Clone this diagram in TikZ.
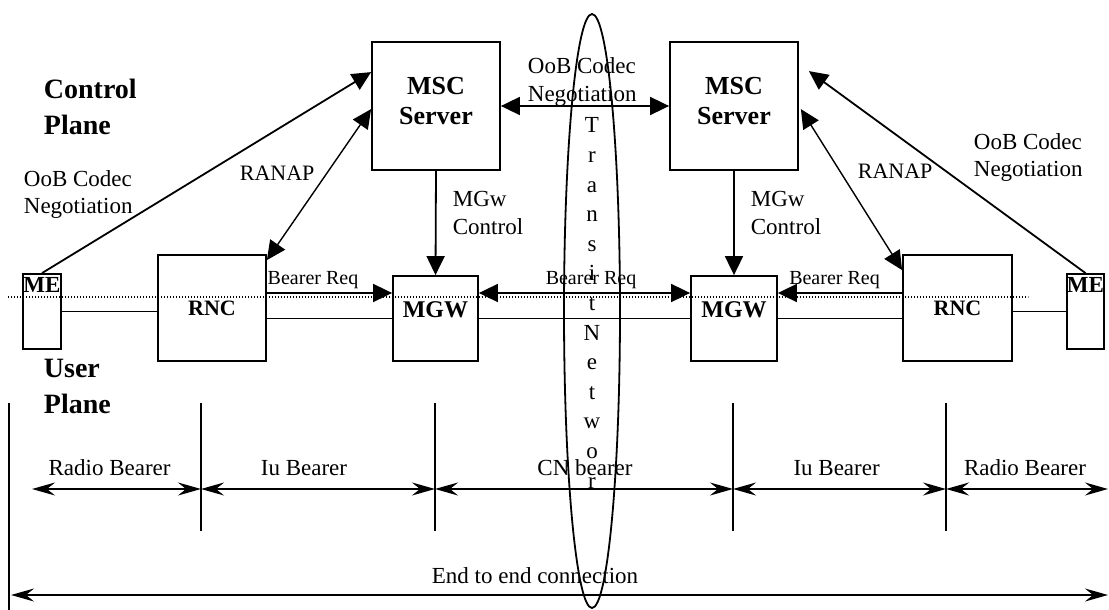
\documentclass[tikz,border=0pt]{standalone}
\usepackage{fontspec}
\setmainfont{Liberation Serif}
\usetikzlibrary{arrows.meta,shapes.geometric}
\begin{document}
\begin{tikzpicture}[x=0.5pt,y=-0.5pt,
  line width=0.9pt,
  box/.style={draw, line width=0.9pt, inner sep=0pt},
  txt/.style={font=\fontsize{11.5}{13.5}\selectfont, inner sep=0pt, align=left},
  small/.style={font=\fontsize{10}{12}\selectfont, inner sep=0pt},
  bf/.style={font=\fontsize{#1}{15}\selectfont\bfseries, inner sep=0pt},
  tri/.style={-{Triangle[length=9.5pt,width=9pt]}},
  ttri/.style={{Triangle[length=9.5pt,width=9pt]}-{Triangle[length=9.5pt,width=9pt]}},
  stl/.style={{Stealth[length=11.5pt,width=6.5pt,inset=4pt]}-{Stealth[length=11.5pt,width=6.5pt,inset=4pt]}},
]
\useasboundingbox (0,0) rectangle (1109,610);

% ---------- boxes ----------
\node[box, minimum width=19pt, minimum height=37.5pt,
      label={[bf=11.5, anchor=north, yshift=-1.5pt]north:ME}] (meL) at (42,311.5) {};
\node[box, minimum width=54pt, minimum height=53pt, bf=11] (rncL) at (212,308) {RNC};
\node[box, minimum width=42.5pt, minimum height=42.5pt,
      label={[bf=12, yshift=4.25pt]center:MGW}] (mgwL) at (435.5,318.5) {};
\node[box, minimum width=43pt, minimum height=42.5pt,
      label={[bf=12, yshift=4.25pt]center:MGW}] (mgwR) at (734,318.5) {};
\node[box, minimum width=54.5pt, minimum height=53pt, bf=11] (rncR) at (957.5,308) {RNC};
\node[box, minimum width=18.5pt, minimum height=37.5pt,
      label={[bf=11.5, anchor=north, yshift=-1.5pt]north:ME}] (meR) at (1085.5,311.5) {};
\node[box, minimum width=64pt, minimum height=64pt,
      label={[bf=13, align=center, yshift=2.25pt]center:{MSC\\Server}}] (mscL) at (436,106) {};
\node[box, minimum width=64pt, minimum height=64pt,
      label={[bf=13, align=center, yshift=2.25pt]center:{MSC\\Server}}] (mscR) at (734,106) {};

% ---------- user plane lines ----------
\draw (meL.east) -- (rncL.west |- meL.east);
\draw (rncL.east |- mgwL.center) -- (mgwL.west);
\draw (mgwL.east) -- (mgwR.west);
\draw (mgwR.east) -- (rncR.west |- mgwR.center);
\draw (rncR.east |- meR.east) -- (meR.west);

% dotted plane separator
\coordinate (dl) at (8,297);
\coordinate (dr) at (1028,297);
\draw[line width=0.6pt, dash pattern=on 0.6pt off 0.9pt] (dl) -- (dr);

% ---------- bearer requests ----------
\coordinate (br) at (0,293);
\draw[tri] (rncL.east |- br) -- (mgwL.west |- br);
\draw[ttri] (mgwL.east |- br) -- (mgwR.west |- br);
\draw[tri] (rncR.west |- br) -- (mgwR.east |- br);
\node[small, anchor=base] at (313,284) {Bearer Req};
\node[small, anchor=base] at (591,285) {Bearer Req};
\node[small, anchor=base] at (834.5,284) {Bearer Req};

% ---------- control plane ----------
\draw[tri] (meL.north) -- ([yshift=-15.5pt]mscL.north west);
\draw[ttri, line width=0.7pt] ([yshift=-3pt]rncL.north east) -- ([yshift=-34pt]mscL.north west);
\draw[ttri] (mscL.east) -- (mscR.west);
\draw[tri] (mscL.south) -- (mgwL.north);
\draw[tri] (mscR.south) -- (mgwR.north);
\draw[ttri, line width=0.7pt] ([yshift=-8pt]rncR.north west) -- ([xshift=1pt,yshift=-34pt]mscR.north east);
\draw[tri] (meR.north) -- ([xshift=5pt,yshift=-15pt]mscR.north east);

% ---------- labels ----------
\node[font=\fontsize{14}{18}\selectfont\bfseries, inner sep=0pt, align=left, anchor=north west] at (43,78) {Control\\Plane};
\node[font=\fontsize{14}{18}\selectfont\bfseries, inner sep=0pt, align=left, anchor=north west] at (43,358) {User\\Plane};
\node[txt, anchor=north west] at (23,170) {OoB Codec\\Negotiation};
\node[txt, anchor=north west, font=\fontsize{11.5}{14}\selectfont] at (527,57) {OoB Codec\\Negotiation};
\node[txt, anchor=north west] at (973,133) {OoB Codec\\Negotiation};
\node[font=\fontsize{11}{13}\selectfont, inner sep=0pt, anchor=north west] at (239,165) {RANAP};
\node[font=\fontsize{11}{13}\selectfont, inner sep=0pt, anchor=north west] at (857,163) {RANAP};
\node[txt, anchor=north west, font=\fontsize{11.5}{14}\selectfont] at (452,190) {MGw\\Control};
\node[txt, anchor=north west, font=\fontsize{11.5}{14}\selectfont] at (750,190) {MGw\\Control};

% ---------- transit network ----------
\node[draw, ellipse, line width=0.9pt, minimum width=28pt, minimum height=297pt, inner sep=0pt] (transit) at (592,311) {};
\node[inner sep=0pt, anchor=north, align=center, font=\fontsize{11.5}{14.8}\selectfont] (transitText) at (592,117)
  {T\\r\\a\\n\\s\\i\\t\\N\\e\\t\\w\\o\\r};

% ---------- bearer sections ----------
\coordinate (v0t) at (9,403);  \coordinate (v0b) at (9,610);
\coordinate (v1t) at (201,403); \coordinate (v1b) at (201,531);
\coordinate (v2t) at (435,403); \coordinate (v2b) at (435,531);
\coordinate (v3t) at (733,403); \coordinate (v3b) at (733,531);
\coordinate (v4t) at (946,403); \coordinate (v4b) at (946,531);
\draw (v0t) -- (v0b);
\draw (v1t) -- (v1b);
\draw (v2t) -- (v2b);
\draw (v3t) -- (v3b);
\draw (v4t) -- (v4b);

\coordinate (a0) at (32,489);
\coordinate (a5) at (1108,489);
\draw[stl] (a0) -- (v1t |- a0);
\draw[stl] (v1t |- a0) -- (v2t |- a0);
\draw[stl] (v2t |- a0) -- (v3t |- a0);
\draw[stl] (v3t |- a0) -- (v4t |- a0);
\draw[stl] (v4t |- a0) -- (a5);

\node[txt, anchor=base] at (109.6,475) {Radio Bearer};
\node[txt, anchor=base] at (304,475) {Iu Bearer};
\node[txt, anchor=base] at (585,475) {CN bearer};
\node[txt, anchor=base] at (836.6,475) {Iu Bearer};
\node[txt, anchor=base] at (1025,475) {Radio Bearer};

\coordinate (e0) at (11,595);
\coordinate (e1) at (1108,595);
\draw[stl] (e0) -- (e1);
\node[txt, anchor=base] at (535,583) {End to end connection};
\end{tikzpicture}
\end{document}
